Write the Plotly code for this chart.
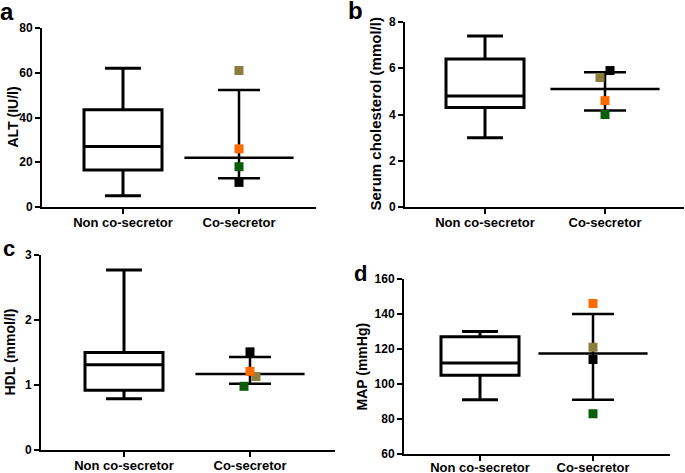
import plotly.graph_objects as go

# ---------------- data ----------------
categories = ["Non co-secretor", "Co-secretor"]
panel_letters = ["a", "b", "c", "d"]
y_titles = ["ALT (IU/l)", "Serum cholesterol (mmol/l)", "HDL (mmol/l)", "MAP (mmHg)"]

# Non co-secretor box summaries: [min, Q1, median, Q3, max]
box_a = [5, 16.5, 27, 43.5, 62]
box_b = [3.0, 4.3, 4.8, 6.4, 7.4]
box_c = [0.79, 0.92, 1.31, 1.50, 2.77]
box_d = [91, 105, 112, 127, 130]

# Co-secretor summaries: [centre line, lower bar, upper bar]
co_a = [22, 12.8, 52.3]
co_b = [5.1, 4.17, 5.83]
co_c = [1.17, 1.02, 1.43]
co_d = [117.5, 91, 140]

# Individual co-secretor values, subjects in order: olive, orange, green, black
pts_a = [61, 26, 18, 11]
pts_b = [5.6, 4.6, 4.0, 5.9]
pts_c = [1.13, 1.21, 0.98, 1.51]
pts_d = [121, 146, 83, 114]

y_ranges = [[0, 80], [0, 8], [0, 3], [60, 160]]
y_ticks = [[0, 20, 40, 60, 80], [0, 2, 4, 6, 8], [0, 1, 2, 3], [60, 80, 100, 120, 140, 160]]

# ---------------- style / layout ----------------
W, H = 685, 473
subject_colors = ["#8C7E3C", "#FF6A00", "#0A5E0A", "#000000"]
dodge_px = [[0, 0, 0, 0], [-5, 0, 0, 5], [6, 0, -6, 0], [0, 0, 0, 0]]
areas = [(42, 316, 28, 207), (405, 684, 22, 207), (41, 335, 255, 450), (404, 670, 279, 454)]
cat_px = [(123, 239), (485, 605), (124, 250), (480, 593)]
xlabel_standoff = [-3, -3, -3, -5]
ytitle_x = [12, 375, 9, 361]
ytitle_size = [14, 15, 14, 14]
letter_pos = [(7, 12), (355, 10), (9, 248), (361, 273)]
letter_size = [24, 24, 22, 22]

FONT = "Liberation Sans, Arial, sans-serif"

boxes = [box_a, box_b, box_c, box_d]
cos = [co_a, co_b, co_c, co_d]
pts = [pts_a, pts_b, pts_c, pts_d]

fig = go.Figure()
annotations = []
for i in range(4):
    l, r, t, b = areas[i]
    c0, c1 = cat_px[i]
    unit = (c1 - c0)
    xr = [-(c0 - l) / unit, 1 + (r - c1) / unit]
    ax = "" if i == 0 else str(i + 1)
    xa, ya = "x" + ax, "y" + ax
    mn, q1, med, q3, mx = boxes[i]
    fig.add_trace(go.Box(
        x=[0], q1=[q1], median=[med], q3=[q3], lowerfence=[mn], upperfence=[mx],
        width=78 / unit, whiskerwidth=0.46, fillcolor="white",
        line=dict(color="black", width=3), boxpoints=False,
        xaxis=xa, yaxis=ya, showlegend=False, hoverinfo="skip"))
    cen, lo, hi = cos[i]
    fig.add_trace(go.Scatter(
        x=[1], y=[cen], mode="markers",
        marker=dict(symbol="line-ew", size=78, line=dict(color="black", width=2.5), color="black"),
        error_y=dict(type="data", symmetric=False, array=[hi - cen], arrayminus=[cen - lo],
                     color="black", thickness=2.5, width=21),
        xaxis=xa, yaxis=ya, showlegend=False, hoverinfo="skip"))
    fig.add_trace(go.Scatter(
        x=[1 + d / unit for d in dodge_px[i]], y=pts[i], mode="markers",
        marker=dict(symbol="square", size=9, color=subject_colors, line=dict(width=0)),
        xaxis=xa, yaxis=ya, showlegend=False, hoverinfo="skip"))

    axis_common = dict(showgrid=False, zeroline=False, showline=True, linecolor="black",
                       linewidth=2, ticks="outside", ticklen=5, tickwidth=2, tickcolor="black",
                       automargin=False, fixedrange=True)
    fig.update_layout(**{
        "xaxis" + ax: dict(domain=[l / W, r / W], range=xr, tickvals=[0, 1], ticktext=categories,
                           anchor=ya, ticklabelstandoff=xlabel_standoff[i], **axis_common,
                           tickfont=dict(family=FONT, size=13, color="black", weight="bold")),
        "yaxis" + ax: dict(domain=[1 - b / H, 1 - t / H], range=y_ranges[i], tickvals=y_ticks[i],
                           anchor=xa, **axis_common,
                           tickfont=dict(family=FONT, size=12, color="black", weight="bold")),
    })
    annotations.append(dict(x=ytitle_x[i] / W, y=1 - (t + b) / 2 / H, xref="paper", yref="paper",
                            text=y_titles[i], textangle=-90, showarrow=False,
                            xanchor="center", yanchor="middle",
                            font=dict(family=FONT, size=ytitle_size[i], color="black", weight="bold")))
    annotations.append(dict(x=letter_pos[i][0] / W, y=1 - letter_pos[i][1] / H, xref="paper", yref="paper",
                            text=panel_letters[i], showarrow=False, xanchor="center", yanchor="middle",
                            font=dict(family=FONT, size=letter_size[i], color="black", weight="bold")))

fig.update_layout(width=W, height=H, margin=dict(l=0, r=0, t=0, b=0, pad=0), autosize=False,
                  plot_bgcolor="white", paper_bgcolor="white", annotations=annotations)
fig.write_html("out.html", config={"displayModeBar": False},
               post_script="document.body.style.margin='0';document.body.style.overflow='hidden';")
